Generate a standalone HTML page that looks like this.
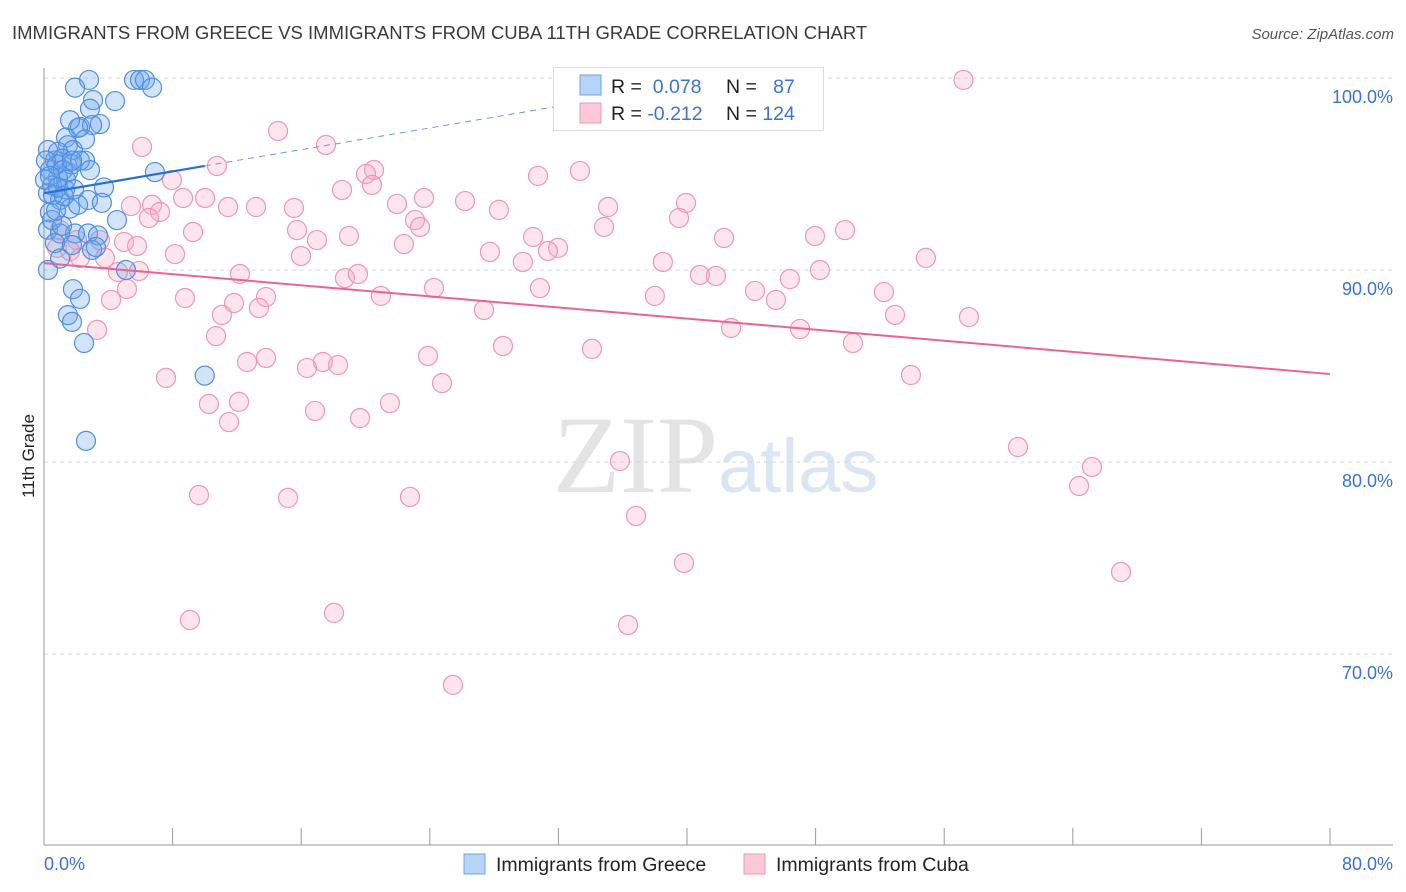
<!DOCTYPE html>
<html><head><meta charset="utf-8">
<style>
body{margin:0;background:#fff;font-family:"Liberation Sans",sans-serif;}
#wrap{position:relative;width:1406px;height:892px;overflow:hidden;}
</style></head>
<body>
<div id="wrap">
<svg id="chart" width="1406" height="892" xmlns="http://www.w3.org/2000/svg">
<text x="12" y="39" font-size="18.5" fill="#3a3a3a">IMMIGRANTS FROM GREECE VS IMMIGRANTS FROM CUBA 11TH GRADE CORRELATION CHART</text>
<text x="1394" y="39" font-size="15" fill="#555" font-style="italic" text-anchor="end">Source: ZipAtlas.com</text>
<g>
<text x="553" y="492" font-size="110" font-family="Liberation Serif,serif" fill="#e4e4e4">ZIP</text>
<text x="718" y="492" font-size="76" fill="#dbe6f5">atlas</text>
</g>
<g id="grid"></g>
<g id="axes"></g>
<g id="pinkpts"></g>
<g id="bluepts"></g>
<g id="trends"></g>
<text x="34" y="456" font-size="17" fill="#222" text-anchor="middle" transform="rotate(-90 34 456)">11th Grade</text>
<g>
<rect x="553.5" y="67.5" width="270" height="63" fill="#fff" stroke="#ddd"/>
<rect x="580" y="75" width="21" height="20" fill="#b7d3f5" stroke="#6fa3e6"/>
<rect x="580" y="103" width="21" height="20" fill="#fbc9d8" stroke="#ea9ab4"/>
<text x="611" y="93" font-size="19.5" fill="#222">R = <tspan fill="#3b73d1">&#160;0.078</tspan></text>
<text x="726" y="93" font-size="19.5" fill="#222">N = <tspan fill="#3b73d1">&#160;&#160;87</tspan></text>
<text x="611" y="120" font-size="19.5" fill="#222">R = <tspan fill="#3b73d1">-0.212</tspan></text>
<text x="726" y="120" font-size="19.5" fill="#222">N = <tspan fill="#3b73d1">124</tspan></text>
</g>
<g>
<rect x="464" y="854" width="21" height="20" fill="#b7d3f5" stroke="#6fa3e6"/>
<text x="496" y="871" font-size="19.5" fill="#222">Immigrants from Greece</text>
<rect x="744" y="854" width="21" height="20" fill="#fbc9d8" stroke="#ea9ab4"/>
<text x="776" y="871" font-size="19.5" fill="#222">Immigrants from Cuba</text>
</g>
</svg>
</div>
<script>
const yTicks=[100,90,80,70];
const yTickLabels=["100.0%","90.0%","80.0%","70.0%"];
const xTicks=[0,8,16,24,32,40,48,56,64,72,80];
const xEndLabels=["0.0%","80.0%"];
const greeceX=[2.8,1.93,5.6,5.97,6.28,6.72,3.05,4.42,2.86,3.48,2.24,2.99,1.37,2.12,1.49,1.8,0.87,0.68,1.12,2.55,1.74,0.37,1.49,0.87,6.9,3.73,0.5,1.31,0.25,1.0,2.74,1.62,3.6,4.54,0.37,0.25,1.0,1.93,2.74,3.36,0.68,1.74,2.99,3.23,1.0,5.1,0.25,1.8,2.24,1.49,1.74,2.49,10.0,2.61,0.56,0.06,0.81,1.18,2.24,0.25,1.62,2.55,0.5,1.12,0.75,2.12,1.37,0.12,0.37,0.87,1.24,1.74,1.87,2.86];
const greeceY=[99.9,99.5,99.9,99.9,99.9,99.5,98.85,98.8,98.4,97.6,97.45,97.55,96.9,97.4,96.5,96.25,96.15,95.7,95.8,95.7,95.5,95.2,95.1,94.8,95.1,94.3,94.4,94.2,94.0,93.65,93.65,93.2,93.5,92.6,93.0,92.1,91.9,91.9,91.9,91.8,91.4,91.3,91.05,91.2,90.6,90.0,90.0,89.0,88.5,87.65,87.3,86.2,84.5,81.1,93.9,94.7,95.5,95.2,95.7,96.25,97.8,96.8,92.6,92.3,93.1,93.4,94.7,95.7,94.9,94.3,93.85,95.7,94.2,95.2];
const cubaX=[57.2,14.56,17.54,6.1,20.53,33.34,30.73,20.03,10.76,7.96,18.54,20.4,21.96,23.64,26.19,28.3,35.09,39.94,39.5,6.72,8.65,10.02,7.22,6.53,13.19,15.55,5.41,11.45,23.08,23.39,34.84,9.27,15.74,16.98,18.97,22.39,30.42,31.98,31.35,27.74,42.3,47.96,49.83,4.98,5.79,3.48,2.05,1.0,0.81,1.62,2.24,3.79,4.6,8.15,12.19,15.99,18.72,19.53,29.79,38.5,40.8,41.8,46.4,48.27,54.86,5.91,5.16,4.17,8.77,11.82,13.81,13.37,11.07,20.96,24.26,30.85,38.0,44.23,45.53,52.25,52.94,57.54,27.37,3.3,10.7,42.74,47.03,28.55,34.09,50.32,13.81,12.63,17.35,16.36,18.29,23.89,7.59,24.76,53.93,10.26,12.13,21.52,16.86,19.66,11.51,35.83,60.59,65.19,64.39,9.64,15.18,22.77,36.83,39.81,67.0,9.08,18.04,36.33,25.44];
const cubaY=[99.9,97.24,96.51,96.41,95.21,95.16,94.9,95.0,95.42,94.69,94.17,94.43,93.44,93.75,93.59,93.13,93.28,93.49,92.71,93.39,93.75,93.75,93.02,92.71,93.28,93.23,93.33,93.28,92.6,92.24,92.24,91.98,92.08,91.56,91.77,91.35,91.72,91.15,90.99,90.94,91.67,91.77,92.08,91.46,91.25,91.56,91.56,92.08,91.15,90.99,90.63,90.63,89.9,90.83,89.79,90.73,89.58,89.79,90.42,90.42,89.74,89.69,89.53,90.0,90.63,89.95,89.01,88.44,88.54,88.28,88.59,88.02,87.66,88.65,89.06,89.06,88.65,88.91,88.44,88.85,87.66,87.55,87.92,86.88,86.56,86.98,86.93,86.04,85.89,86.2,85.42,85.21,85.21,84.9,85.05,85.52,84.38,84.11,84.53,83.02,83.13,83.07,82.66,82.29,82.08,80.05,80.78,79.74,78.75,78.28,78.13,78.18,77.19,74.74,74.27,71.77,72.14,71.51,68.39];
const greeceTrend=[94.0,95.42];
const greeceTrendDash=[95.42,98.6];
const cubaTrend=[90.36,84.58];

const NS="http://www.w3.org/2000/svg";
const X0=44,X1=1330;
function sx(v){return X0+(v/80)*(X1-X0);}
function sy(v){return 78+(100-v)*19.2;}
function mk(tag,attrs,parent){const e=document.createElementNS(NS,tag);for(const k in attrs)e.setAttribute(k,attrs[k]);parent.appendChild(e);return e;}
const grid=document.getElementById('grid'),axes=document.getElementById('axes');
yTicks.forEach((t,i)=>{
  const l=mk('line',{x1:X0,x2:1393,y1:sy(t),y2:sy(t),stroke:'#d8d8d8','stroke-dasharray':'4,4'},grid);
  
  
  const tx=mk('text',{x:1393,y:sy(t)+25,'font-size':18,fill:'#3b73d1','text-anchor':'end'},axes);
  tx.textContent=yTickLabels[i];
  
  
});
let a=mk('line',{x1:X0,x2:X0,y1:68,y2:845,stroke:'#999'},axes);


a=mk('line',{x1:X0,x2:1393,y1:845,y2:845,stroke:'#999'},axes);


xTicks.forEach(t=>{
  const l=mk('line',{x1:sx(t),x2:sx(t),y1:828,y2:845,stroke:'#999'},axes);
  
  
});
let t1=mk('text',{x:44,y:870,'font-size':18,fill:'#3b73d1'},axes);
t1.textContent=xEndLabels[0];


let t2=mk('text',{x:1393,y:870,'font-size':18,fill:'#3b73d1','text-anchor':'end'},axes);
t2.textContent=xEndLabels[1];



const pg=document.getElementById('pinkpts');
cubaX.forEach((x,i)=>{
  const c=mk('circle',{cx:sx(x),cy:sy(cubaY[i]),r:9.5,fill:'rgba(247,170,195,0.3)',stroke:'#ec97b3','stroke-width':1.2},pg);
  
  
});
const bg=document.getElementById('bluepts');
greeceX.forEach((x,i)=>{
  const c=mk('circle',{cx:sx(x),cy:sy(greeceY[i]),r:9.5,fill:'rgba(110,165,235,0.3)',stroke:'#4f8fe0','stroke-width':1.2},bg);
  
  
});
const tg=document.getElementById('trends');
let ln=mk('line',{x1:sx(0),y1:sy(cubaTrend[0]),x2:sx(80),y2:sy(cubaTrend[1]),stroke:'#e8658f','stroke-width':2},tg);


ln=mk('line',{x1:sx(0),y1:sy(greeceTrend[0]),x2:sx(10),y2:sy(greeceTrend[1]),stroke:'#2a6fd6','stroke-width':2.2},tg);


ln=mk('line',{x1:sx(10),y1:sy(greeceTrendDash[0]),x2:sx(32.5),y2:sy(greeceTrendDash[1]),stroke:'#6a9be0','stroke-width':1,'stroke-dasharray':'6,5'},tg);


</script>
</body></html>
